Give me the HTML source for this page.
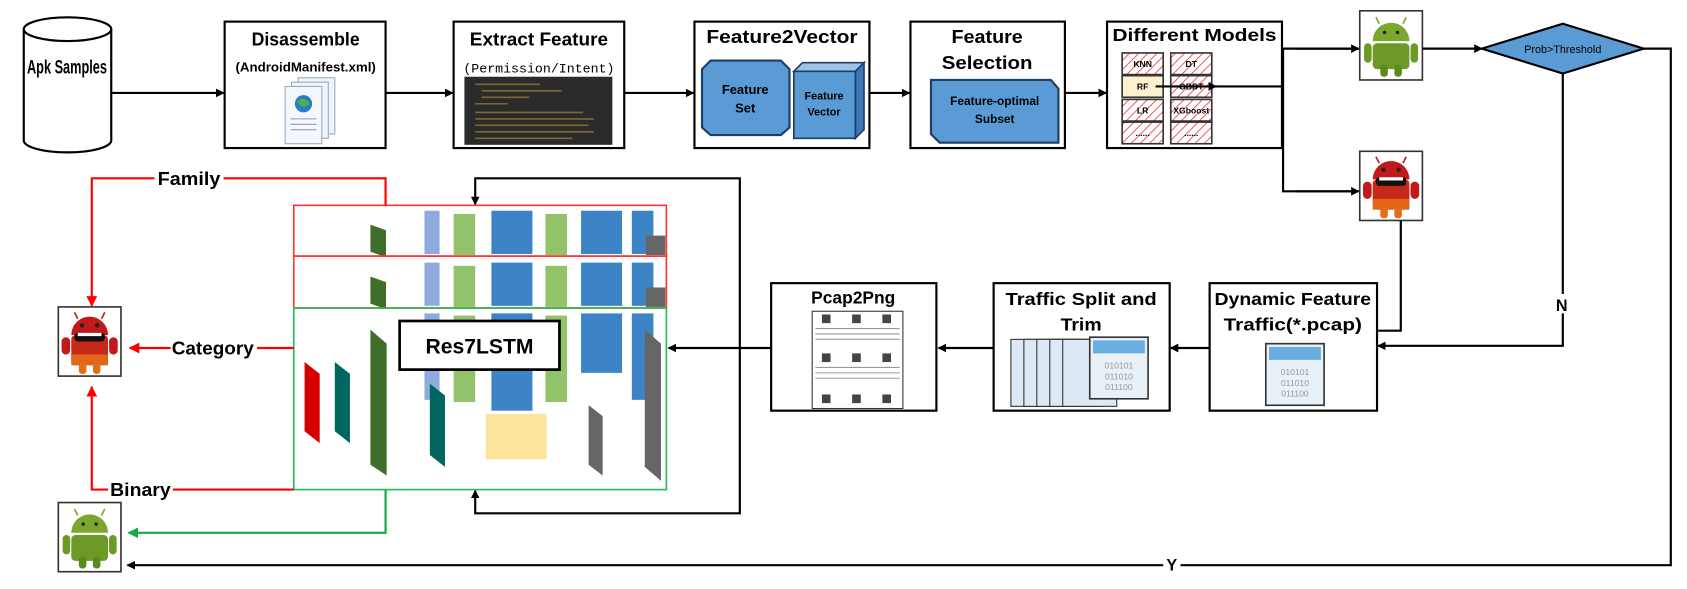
<!DOCTYPE html>
<html><head><meta charset="utf-8"><style>
html,body{margin:0;padding:0;background:#fff;}
svg{display:block;}
text{font-family:"Liberation Sans",sans-serif;font-weight:bold;fill:#000;}
</style></head><body>
<svg width="1687" height="589" viewBox="0 0 1562 545" preserveAspectRatio="none" xmlns="http://www.w3.org/2000/svg">
<defs>
<marker id="ab" markerWidth="8" markerHeight="8" refX="7" refY="4" orient="auto" markerUnits="userSpaceOnUse"><path d="M0,0 L8,4 L0,8z" fill="#000"/></marker>
<marker id="ar" markerWidth="10" markerHeight="10" refX="9" refY="5" orient="auto" markerUnits="userSpaceOnUse"><path d="M0,0 L10,5 L0,10z" fill="#f00"/></marker>
<marker id="ag" markerWidth="10" markerHeight="10" refX="9" refY="5" orient="auto" markerUnits="userSpaceOnUse"><path d="M0,0 L10,5 L0,10z" fill="#1a4"/></marker>
<pattern id="hatch" width="6" height="6" patternUnits="userSpaceOnUse" patternTransform="rotate(45)"><rect width="6" height="6" fill="#fff"/><line x1="0" y1="0" x2="0" y2="6" stroke="#e33" stroke-width="1.5"/></pattern>
<g id="andg">
<rect x="0" y="0" width="58" height="64" fill="#fff" stroke="#333" stroke-width="1.5"/>
<path d="M12,28 A17,17 0 0 1 46,28z" fill="#7aa82e"/>
<rect x="12" y="30" width="34" height="24" rx="4" fill="#6c9a27"/>
<rect x="4" y="30" width="7" height="18" rx="3.5" fill="#6c9a27"/>
<rect x="47" y="30" width="7" height="18" rx="3.5" fill="#6c9a27"/>
<rect x="19" y="50" width="7" height="11" rx="3" fill="#5d8a20"/><rect x="32" y="50" width="7" height="11" rx="3" fill="#5d8a20"/>
<circle cx="23" cy="20" r="1.6" fill="#222"/><circle cx="35" cy="20" r="1.6" fill="#222"/>
<line x1="18" y1="12" x2="15" y2="6" stroke="#7aa82e" stroke-width="1.5"/><line x1="40" y1="12" x2="43" y2="6" stroke="#7aa82e" stroke-width="1.5"/>
</g>
<g id="andr">
<rect x="0" y="0" width="58" height="64" fill="#fff" stroke="#333" stroke-width="1.5"/>
<path d="M12,26 A17,17 0 0 1 46,26z" fill="#c21a1a"/>
<rect x="12" y="26" width="34" height="28" rx="4" fill="#c8281a"/>
<rect x="12" y="44" width="34" height="10" fill="#e2661a"/>
<rect x="15" y="24" width="28" height="8" rx="3" fill="#111"/><rect x="18" y="24" width="22" height="3" fill="#fff"/>
<rect x="3" y="28" width="8" height="16" rx="4" fill="#c21a1a"/><rect x="47" y="28" width="8" height="16" rx="4" fill="#c21a1a"/>
<rect x="19" y="52" width="7" height="10" rx="3" fill="#e07018"/><rect x="32" y="52" width="7" height="10" rx="3" fill="#e07018"/>
<circle cx="22" cy="17" r="2" fill="#222"/><circle cx="36" cy="17" r="2" fill="#222"/>
<line x1="18" y1="11" x2="15" y2="5" stroke="#c21a1a" stroke-width="1.5"/><line x1="40" y1="11" x2="43" y2="5" stroke="#c21a1a" stroke-width="1.5"/>
</g>
<g id="lay"><path d="M0,0 L12,10 L12,60 L0,50z"/></g>
</defs>

<!-- cylinder -->
<path d="M22,27 L22,130 A40.5,11 0 0 0 103,130 L103,27" fill="#fff" stroke="#000" stroke-width="2"/>
<ellipse cx="62.5" cy="27" rx="40.5" ry="11" fill="#fff" stroke="#000" stroke-width="2"/>
<text x="62" y="68" font-size="18" text-anchor="middle" textLength="74" lengthAdjust="spacingAndGlyphs">Apk Samples</text>
<line x1="103" y1="86" x2="207" y2="86" stroke="#000" stroke-width="2" marker-end="url(#ab)"/>

<!-- disassemble -->
<rect x="208" y="20" width="149" height="117" fill="#fff" stroke="#000" stroke-width="2"/>
<text x="283" y="42" font-size="17" text-anchor="middle" textLength="100" lengthAdjust="spacingAndGlyphs">Disassemble</text>
<text x="283" y="66" font-size="12" text-anchor="middle" textLength="130" lengthAdjust="spacingAndGlyphs">(AndroidManifest.xml)</text>
<rect x="276" y="72" width="34" height="52" fill="#eef4fb" stroke="#9ab" />
<rect x="270" y="76" width="34" height="52" fill="#eef4fb" stroke="#9ab" />
<rect x="264" y="80" width="34" height="53" fill="#f4f8fc" stroke="#9ab" />
<circle cx="281" cy="96" r="8" fill="#2a7bc8"/><path d="M275,94 q6,-6 12,2 q-6,6 -12,-2z" fill="#4caf50"/>
<line x1="269" y1="110" x2="293" y2="110" stroke="#99a"/><line x1="269" y1="115" x2="293" y2="115" stroke="#99a"/><line x1="269" y1="120" x2="293" y2="120" stroke="#99a"/>
<line x1="357" y1="86" x2="419" y2="86" stroke="#000" stroke-width="2" marker-end="url(#ab)"/>

<!-- extract -->
<rect x="420" y="20" width="158" height="117" fill="#fff" stroke="#000" stroke-width="2"/>
<text x="499" y="42" font-size="17" text-anchor="middle" textLength="128" lengthAdjust="spacingAndGlyphs">Extract Feature</text>
<text x="499" y="67" font-size="12" text-anchor="middle" textLength="140" lengthAdjust="spacingAndGlyphs" style="font-family:'Liberation Mono',monospace;font-weight:normal">(Permission/Intent)</text>
<rect x="430" y="71" width="137" height="63" fill="#2b2b2b"/>
<g stroke="#7a6a30" stroke-width="1.5"><line x1="440" y1="78" x2="500" y2="78"/><line x1="446" y1="84" x2="520" y2="84"/><line x1="446" y1="90" x2="490" y2="90"/><line x1="440" y1="96" x2="470" y2="96"/><line x1="440" y1="104" x2="540" y2="104"/><line x1="440" y1="110" x2="550" y2="110"/><line x1="440" y1="116" x2="545" y2="116"/><line x1="440" y1="122" x2="550" y2="122"/><line x1="440" y1="128" x2="530" y2="128"/></g>
<line x1="578" y1="86" x2="642" y2="86" stroke="#000" stroke-width="2" marker-end="url(#ab)"/>

<!-- feature2vector -->
<rect x="643" y="20" width="162" height="117" fill="#fff" stroke="#000" stroke-width="2"/>
<text x="724" y="40" font-size="17" text-anchor="middle" textLength="140" lengthAdjust="spacingAndGlyphs">Feature2Vector</text>
<path d="M650,64 L658,56 L723,56 L731,64 L731,118 L723,125 L658,125 L650,118z" fill="#5b9bd5" stroke="#1f3e63" stroke-width="2"/>
<text x="690" y="87" font-size="12" text-anchor="middle">Feature</text><text x="690" y="104" font-size="12" text-anchor="middle">Set</text>
<path d="M735,66 L743,58 L800,58 L792,66z" fill="#9dc3e6" stroke="#1f3e63" stroke-width="1.5"/>
<path d="M792,66 L800,58 L800,120 L792,128z" fill="#3c78b5" stroke="#1f3e63" stroke-width="1.5"/>
<rect x="735" y="66" width="57" height="62" fill="#5b9bd5" stroke="#1f3e63" stroke-width="1.5"/>
<text x="763" y="92" font-size="10" text-anchor="middle">Feature</text><text x="763" y="107" font-size="10" text-anchor="middle">Vector</text>
<line x1="805" y1="86" x2="842" y2="86" stroke="#000" stroke-width="2" marker-end="url(#ab)"/>

<!-- feature selection -->
<rect x="843" y="20" width="143" height="117" fill="#fff" stroke="#000" stroke-width="2"/>
<text x="914" y="40" font-size="17" text-anchor="middle" textLength="66" lengthAdjust="spacingAndGlyphs">Feature</text>
<text x="914" y="64" font-size="17" text-anchor="middle" textLength="84" lengthAdjust="spacingAndGlyphs">Selection</text>
<path d="M862,74 L973,74 L980,82 L980,132 L870,132 L862,124z" fill="#5b9bd5" stroke="#1f3e63" stroke-width="2"/>
<text x="921" y="97" font-size="11" text-anchor="middle">Feature-optimal</text>
<text x="921" y="114" font-size="11" text-anchor="middle">Subset</text>
<line x1="986" y1="86" x2="1024" y2="86" stroke="#000" stroke-width="2" marker-end="url(#ab)"/>

<!-- models -->
<rect x="1025" y="20" width="162" height="117" fill="#fff" stroke="#000" stroke-width="2"/>
<text x="1106" y="38" font-size="16" text-anchor="middle" textLength="152" lengthAdjust="spacingAndGlyphs">Different Models</text>
<g stroke="#333" stroke-width="1.5" fill="url(#hatch)">
<rect x="1039" y="49" width="38" height="20"/><rect x="1039" y="92" width="38" height="20"/><rect x="1039" y="113" width="38" height="20"/>
<rect x="1084" y="49" width="38" height="20"/><rect x="1084" y="70" width="38" height="20"/><rect x="1084" y="92" width="38" height="20"/><rect x="1084" y="113" width="38" height="20"/>
</g>
<rect x="1039" y="70" width="38" height="20" fill="#fdf0d0" stroke="#333" stroke-width="1.5"/>
<g font-size="8" text-anchor="middle" style="font-weight:normal">
<text x="1058" y="62">KNN</text><text x="1058" y="83">RF</text><text x="1058" y="105">LR</text><text x="1058" y="126">......</text>
<text x="1103" y="62">DT</text><text x="1103" y="83">GBDT</text><text x="1103" y="105">XGboost</text><text x="1103" y="126">......</text>
</g>
<line x1="1070" y1="80" x2="1126" y2="80" stroke="#000" stroke-width="2" marker-end="url(#ab)"/>
<polyline points="1126,80 1188,80" fill="none" stroke="#000" stroke-width="2"/>
<polyline points="1258,45 1188,45 1188,177 1258,177" fill="none" stroke="#000" stroke-width="2"/>
<line x1="1200" y1="45" x2="1258" y2="45" stroke="#000" stroke-width="2" marker-end="url(#ab)"/>
<line x1="1200" y1="177" x2="1258" y2="177" stroke="#000" stroke-width="2" marker-end="url(#ab)"/>
<use href="#andg" x="1259" y="10"/>
<use href="#andr" x="1259" y="140"/>

<line x1="1317" y1="45" x2="1372" y2="45" stroke="#000" stroke-width="2" marker-end="url(#ab)"/>
<path d="M1372,45 L1447,22 L1522,45 L1447,68z" fill="#5b9bd5" stroke="#000" stroke-width="2"/>
<text x="1447" y="49" font-size="10" text-anchor="middle" style="font-weight:normal">Prob&gt;Threshold</text>
<polyline points="1522,45 1547,45 1547,523 118,523" fill="none" stroke="#000" stroke-width="2" marker-end="url(#ab)"/>
<rect x="1077" y="514" width="16" height="16" fill="#fff"/><text x="1085" y="528" font-size="15" text-anchor="middle">Y</text>
<polyline points="1447,68 1447,320 1276,320" fill="none" stroke="#000" stroke-width="2" marker-end="url(#ab)"/>
<rect x="1437" y="272" width="18" height="18" fill="#fff"/><text x="1446" y="288" font-size="15" text-anchor="middle">N</text>
<polyline points="1297,204 1297,306 1276,306" fill="none" stroke="#000" stroke-width="2"/>

<!-- dynamic -->
<rect x="1120" y="262" width="155" height="118" fill="#fff" stroke="#000" stroke-width="2"/>
<text x="1197" y="282" font-size="16" text-anchor="middle" textLength="145" lengthAdjust="spacingAndGlyphs">Dynamic Feature</text>
<text x="1197" y="306" font-size="16" text-anchor="middle" textLength="128" lengthAdjust="spacingAndGlyphs">Traffic(*.pcap)</text>
<g id="file"><rect x="1172" y="318" width="54" height="57" fill="#e8f0f8" stroke="#333" stroke-width="1.5"/><rect x="1175" y="321" width="48" height="12" fill="#6aaee0"/>
<text x="1199" y="347" font-size="8" text-anchor="middle" style="fill:#999;font-weight:normal">010101</text><text x="1199" y="357" font-size="8" text-anchor="middle" style="fill:#999;font-weight:normal">011010</text><text x="1199" y="367" font-size="8" text-anchor="middle" style="fill:#999;font-weight:normal">011100</text></g>
<line x1="1120" y1="322" x2="1084" y2="322" stroke="#000" stroke-width="2" marker-end="url(#ab)"/>

<!-- traffic split -->
<rect x="920" y="262" width="163" height="118" fill="#fff" stroke="#000" stroke-width="2"/>
<text x="1001" y="282" font-size="16" text-anchor="middle" textLength="140" lengthAdjust="spacingAndGlyphs">Traffic Split and</text>
<text x="1001" y="306" font-size="16" text-anchor="middle" textLength="38" lengthAdjust="spacingAndGlyphs">Trim</text>
<g fill="#dde9f5" stroke="#333"><rect x="936" y="314" width="50" height="62"/><rect x="948" y="314" width="50" height="62"/><rect x="960" y="314" width="50" height="62"/><rect x="972" y="314" width="50" height="62"/><rect x="984" y="314" width="50" height="62"/></g>
<use href="#file" x="-163" y="-6"/>
<line x1="920" y1="322" x2="869" y2="322" stroke="#000" stroke-width="2" marker-end="url(#ab)"/>

<!-- pcap2png -->
<rect x="714" y="262" width="153" height="118" fill="#fff" stroke="#000" stroke-width="2"/>
<text x="790" y="281" font-size="16" text-anchor="middle" textLength="78" lengthAdjust="spacingAndGlyphs">Pcap2Png</text>
<rect x="752" y="288" width="84" height="90" fill="#fff" stroke="#333"/>
<g fill="#444"><rect x="761" y="291" width="8" height="8"/><rect x="789" y="291" width="8" height="8"/><rect x="817" y="291" width="8" height="8"/><rect x="761" y="327" width="8" height="8"/><rect x="789" y="327" width="8" height="8"/><rect x="817" y="327" width="8" height="8"/><rect x="761" y="365" width="8" height="8"/><rect x="789" y="365" width="8" height="8"/><rect x="817" y="365" width="8" height="8"/></g>
<g stroke="#999" stroke-width="1"><line x1="755" y1="304" x2="833" y2="304"/><line x1="755" y1="309" x2="833" y2="309"/><line x1="755" y1="314" x2="833" y2="314"/><line x1="755" y1="340" x2="833" y2="340"/><line x1="755" y1="345" x2="833" y2="345"/><line x1="755" y1="350" x2="833" y2="350"/></g>
<line x1="714" y1="322" x2="619" y2="322" stroke="#000" stroke-width="2" marker-end="url(#ab)"/>
<polyline points="685,322 685,165 440,165 440,189" fill="none" stroke="#000" stroke-width="2" marker-end="url(#ab)"/>
<polyline points="685,322 685,475 440,475 440,454" fill="none" stroke="#000" stroke-width="2" marker-end="url(#ab)"/>

<!-- model -->
<g>
<g fill="#3f6d2a"><use href="#lay" transform="translate(343,208) scale(1.2,0.5)"/><use href="#lay" transform="translate(343,256) scale(1.2,0.5)"/></g>
<g fill="#8faadc"><rect x="393" y="195" width="14" height="40"/><rect x="393" y="243" width="14" height="40"/><rect x="393" y="290" width="14" height="80"/></g>
<g fill="#92c36a"><rect x="420" y="198" width="20" height="38"/><rect x="420" y="246" width="20" height="38"/><rect x="420" y="292" width="20" height="80"/><rect x="505" y="198" width="20" height="38"/><rect x="505" y="246" width="20" height="38"/><rect x="505" y="292" width="20" height="80"/></g>
<g fill="#3d84c6"><rect x="455" y="195" width="38" height="40"/><rect x="455" y="243" width="38" height="40"/><rect x="455" y="290" width="38" height="90"/><rect x="538" y="195" width="38" height="40"/><rect x="538" y="243" width="38" height="40"/><rect x="538" y="290" width="38" height="55"/><rect x="585" y="195" width="20" height="40"/><rect x="585" y="243" width="20" height="40"/><rect x="585" y="290" width="20" height="80"/></g>
<g fill="#666"><rect x="598" y="218" width="18" height="18"/><rect x="598" y="266" width="18" height="18"/><path d="M597,305 L612,318 L612,445 L597,432z"/><path d="M545,375 L558,385 L558,440 L545,430z"/></g>
<path d="M343,305 L358,318 L358,440 L343,430z" fill="#3f6d2a"/>
<path d="M282,335 L296,346 L296,410 L282,399z" fill="#d40000"/>
<path d="M310,335 L324,346 L324,410 L310,399z" fill="#006660"/>
<path d="M398,355 L412,366 L412,432 L398,421z" fill="#006660"/>
<rect x="450" y="383" width="56" height="42" fill="#fde49a"/>
</g>
<rect x="272" y="190" width="345" height="47" fill="none" stroke="#f33" stroke-width="1.5"/>
<rect x="272" y="237" width="345" height="48" fill="none" stroke="#f33" stroke-width="1.5"/>
<rect x="272" y="285" width="345" height="168" fill="none" stroke="#2b5" stroke-width="1.5"/>
<rect x="370" y="297" width="148" height="45" fill="#fff" stroke="#000" stroke-width="2.5"/>
<text x="444" y="327" font-size="20" text-anchor="middle" textLength="100" lengthAdjust="spacingAndGlyphs">Res7LSTM</text>

<!-- outputs -->
<polyline points="357,190 357,165 85,165 85,283" fill="none" stroke="#f00" stroke-width="2" marker-end="url(#ar)"/>
<rect x="143" y="154" width="64" height="20" fill="#fff"/><text x="175" y="171" font-size="17" text-anchor="middle" textLength="58" lengthAdjust="spacingAndGlyphs">Family</text>
<line x1="272" y1="322" x2="120" y2="322" stroke="#f00" stroke-width="2" marker-end="url(#ar)"/>
<rect x="158" y="311" width="80" height="22" fill="#fff"/><text x="197" y="328" font-size="17" text-anchor="middle" textLength="76" lengthAdjust="spacingAndGlyphs">Category</text>
<polyline points="272,453 85,453 85,358" fill="none" stroke="#f00" stroke-width="2" marker-end="url(#ar)"/>
<rect x="100" y="442" width="60" height="22" fill="#fff"/><text x="130" y="459" font-size="17" text-anchor="middle" textLength="56" lengthAdjust="spacingAndGlyphs">Binary</text>
<polyline points="357,453 357,493 119,493" fill="none" stroke="#1a4" stroke-width="2" marker-end="url(#ag)"/>
<use href="#andr" x="54" y="284"/>
<use href="#andg" x="54" y="465"/>
</svg>
</body></html>
